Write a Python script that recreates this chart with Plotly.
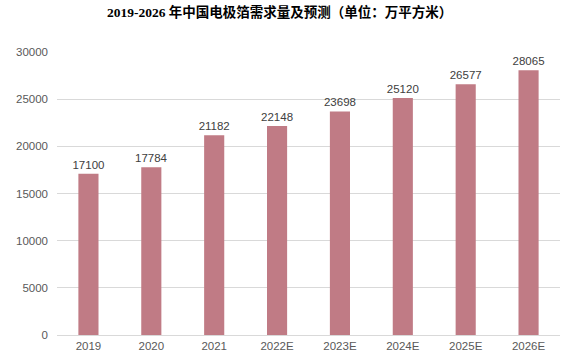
import plotly.graph_objects as go

categories = ["2019", "2020", "2021", "2022E", "2023E", "2024E", "2025E", "2026E"]
values = [17100, 17784, 21182, 22148, 23698, 25120, 26577, 28065]
y_ticks = [0, 5000, 10000, 15000, 20000, 25000, 30000]
title_text = "<b>2019-2026 年中国电极箔需求量及预测（单位：万平方米）</b>"

fig = go.Figure(go.Bar(
    x=categories, y=values,
    marker=dict(color="#c07b85", line=dict(width=0)),
    width=0.32,
    text=[str(v) for v in values],
    textposition="outside",
    constraintext="none",
    textfont=dict(size=11.5, color="#404040", family="Liberation Sans, Arial"),
    cliponaxis=False,
))

fig.update_layout(
    width=565, height=359,
    margin=dict(l=57, r=5, t=52, b=24, autoexpand=False),
    paper_bgcolor="white", plot_bgcolor="white",
    showlegend=False,
    xaxis=dict(tickfont=dict(size=11.5, color="#595959", family="Liberation Sans, Arial"),
               showline=True, linecolor="#d9d9d9", linewidth=1, ticks="", showgrid=False,
               automargin=False),
    yaxis=dict(range=[0, 30000], tickvals=y_ticks, ticktext=[str(v) for v in y_ticks],
               tickfont=dict(size=11.5, color="#595959", family="Liberation Sans, Arial"),
               showgrid=True, gridcolor="#d9d9d9", gridwidth=1, zeroline=True,
               zerolinecolor="#d9d9d9", zerolinewidth=1, ticks="", ticklabelstandoff=8,
               automargin=False),
    annotations=[dict(text=title_text, xref="paper", yref="paper", x=0.443, y=1,
                      xanchor="center", yanchor="middle", yshift=40, showarrow=False,
                      font=dict(size=13.5, color="#000000",
                                family="Liberation Serif, Noto Sans CJK SC"))],
)

fig.write_html("out.html", config={"displayModeBar": False},
               post_script="document.body.style.margin='0px';")
